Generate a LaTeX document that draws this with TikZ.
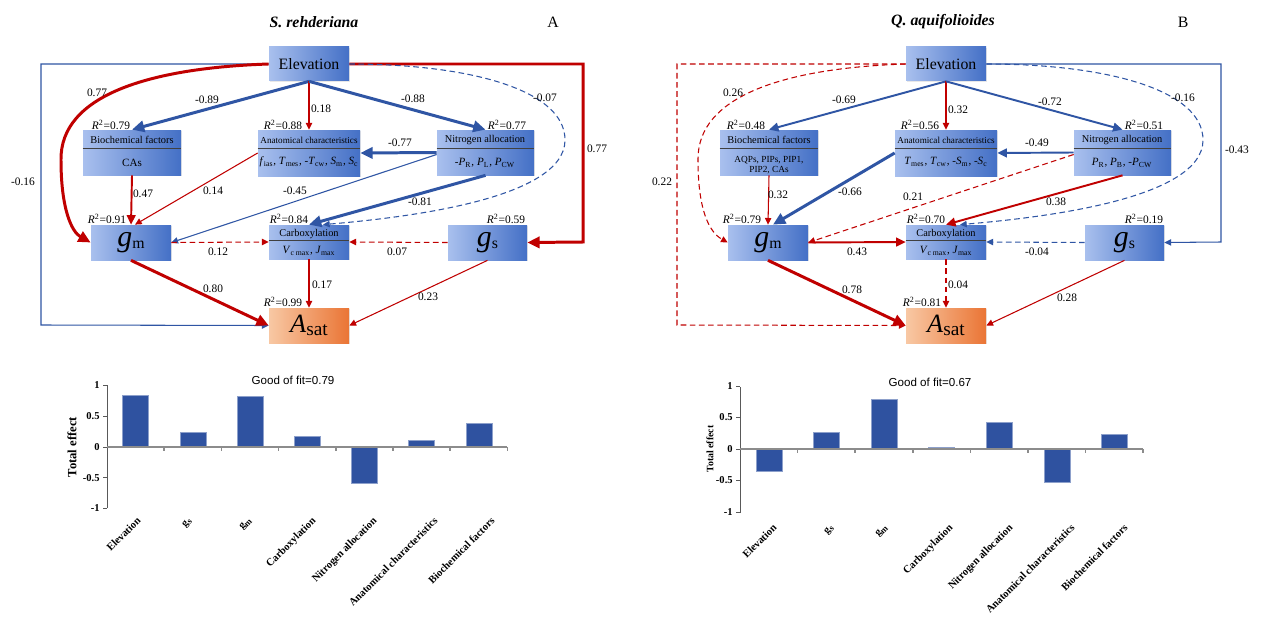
\documentclass[tikz,border=0pt]{standalone}
\usepackage{fontspec}
\setmainfont{Liberation Serif}
\newfontfamily\gofont{Liberation Sans}
\usetikzlibrary{arrows.meta, calc, fit, shadows}
\definecolor{cLink}{HTML}{2F55A4}
\definecolor{cPos}{HTML}{C00000}
\definecolor{cBoxLo}{HTML}{A9C0EE}
\definecolor{cBoxHi}{HTML}{4470C6}
\definecolor{cOutLo}{HTML}{F8C8A4}
\definecolor{cOutHi}{HTML}{EA7535}
\definecolor{cBar}{HTML}{2F52A0}
\definecolor{cAxis}{HTML}{8C8C8C}
\newcommand{\fs}[1]{\fontsize{#1}{#1}\selectfont}
\newcommand{\gm}{{\fs{17}\itshape g}{\fs{9}\raisebox{-1.5pt}{m}}}
\newcommand{\gsw}{{\fs{17}\itshape g}{\fs{9}\raisebox{-1.5pt}{s}}}
\newcommand{\asat}{{\fs{15}\itshape A}{\fs{11}\raisebox{-2pt}{sat}}}

\begin{document}
\begin{tikzpicture}[
    x=0.02cm, y=-0.02cm,
    box/.style={inner sep=0pt, left color=cBoxLo, right color=cBoxHi,
                drop shadow={opacity=0.18, shadow xshift=0.8pt, shadow yshift=-0.8pt}},
    outbox/.style={inner sep=0pt, left color=cOutLo, right color=cOutHi,
                drop shadow={opacity=0.18, shadow xshift=0.8pt, shadow yshift=-0.8pt}},
    big/.style={inner sep=0pt},
    hd/.style={font=\fs{5.9}, inner sep=0pt},
    hds/.style={font=\fs{5.2}, inner sep=0pt},
    bd/.style={font=\fs{6.3}, inner sep=0pt, align=center},
    splitl/.style={draw=black!75, line width=0.5pt},
    rsq/.style={font=\fs{6.5}, inner sep=0pt},
    coef/.style={font=\fs{6.5}, inner sep=0.5pt},
    negl/.style={color=cLink},
    posl/.style={color=cPos},
    wkarr/.style={line width=0.6pt, -{Triangle[length=3.8pt, width=3.6pt]}},
    mdarr/.style={line width=1.1pt, -{Triangle[length=5.4pt, width=5pt]}},
    bgarr/.style={line width=1.7pt, -{Triangle[length=7pt, width=6.4pt]}},
    nsig/.style={dash pattern=on 3.2pt off 2pt},
    ttl/.style={font=\fs{9}\bfseries\itshape, inner sep=0pt},
    pnl/.style={font=\fs{9}, inner sep=0pt},
    barf/.style={fill=cBar, draw=cBar!55!white, line width=0.3pt},
    axy/.style={draw=black!65, line width=0.5pt},
    axx/.style={draw=cAxis, line width=0.9pt},
    tk/.style={font=\fs{6}\bfseries, inner sep=0pt, anchor=east},
    cat/.style={font=\fs{6}\bfseries, inner sep=0pt, rotate=45, anchor=north east},
    gof/.style={font=\gofont\fs{6.6}, inner sep=0pt},
]
\path[use as bounding box, fill=white] (0,0) rectangle (1266,625);

% ===================== Panel A: S. rehderiana =====================
\node[ttl] (ttlA) at (314,22) {S. rehderiana};
\node[pnl] (pnlA) at (553,22) {A};

\node[box, fit={(269,47) (349,81)}] (elevA) {};
\node[box, fit={(83,130) (181,175)}] (bioA) {};
\node[box, fit={(258,130) (360,176)}] (anatA) {};
\node[box, fit={(437,130) (534,175)}] (nitA) {};
\node[box, fit={(91,225) (171,260)}] (gmA) {};
\node[box, fit={(269,225) (349,259)}] (carbA) {};
\node[box, fit={(448,225) (527,260)}] (gsA) {};
\node[outbox, fit={(269,308) (349,343)}] (asatA) {};

\node[big, font=\fs{9}] (elevAt) at (elevA.center) {Elevation};
\node[big] (gmAt) at (gmA.center) {\gm};
\node[big] (gsAt) at (gsA.center) {\gsw};
\node[big] (asatAt) at (asatA.center) {\asat};

\draw[splitl] ($(bioA.north west)+(0,19)$) -- ($(bioA.north east)+(0,19)$);
\draw[splitl] ($(anatA.north west)+(0,19)$) -- ($(anatA.north east)+(0,19)$);
\draw[splitl] ($(nitA.north west)+(0,19)$) -- ($(nitA.north east)+(0,19)$);
\draw[splitl] ($(carbA.north west)+(0,16)$) -- ($(carbA.north east)+(0,16)$);

\node[hd] (bioAh) at (132,140) {Biochemical factors};
\node[bd] (bioAb) at (132,163) {CAs};
\node[hds] (anatAh) at (309,140) {Anatomical characteristics};
\node[bd] (anatAb) at (309,162) {\textit{f}\textsubscript{ias}, \textit{T}\textsubscript{mes},
    -\textit{T}\textsubscript{cw}, \textit{S}\textsubscript{m}, \textit{S}\textsubscript{c}};
\node[hd] (nitAh) at (485,140) {Nitrogen allocation};
\node[bd] (nitAb) at (485,163) {-\textit{P}\textsubscript{R}, \textit{P}\textsubscript{L}, \textit{P}\textsubscript{CW}};
\node[hd] (carbAh) at (309,234) {Carboxylation};
\node[bd] (carbAb) at (309,251) {\textit{V}\textsubscript{c max}, \textit{J}\textsubscript{max}};

\node[rsq] (rA1) at (111,125) {\textit{R}\textsuperscript{2}=0.79};
\node[rsq] (rA2) at (283,125) {\textit{R}\textsuperscript{2}=0.88};
\node[rsq] (rA3) at (507,125) {\textit{R}\textsuperscript{2}=0.77};
\node[rsq] (rA4) at (107,219) {\textit{R}\textsuperscript{2}=0.91};
\node[rsq] (rA5) at (289,219) {\textit{R}\textsuperscript{2}=0.84};
\node[rsq] (rA6) at (506,219) {\textit{R}\textsuperscript{2}=0.59};
\node[rsq] (rA7) at (283,302) {\textit{R}\textsuperscript{2}=0.99};

\coordinate (loopA) at (41,325);
\coordinate (rloopA) at (583,242);

\draw[negl, wkarr] (elevA.west) -| (loopA) -- (asatA.west);
\draw[posl, bgarr] (elevA.east) -| (rloopA) -- (gsA.east);
\draw[posl, bgarr] (elevA.west) .. controls (150,68) and (60,95) .. (61,160)
      .. controls (61,210) and (72,232) .. (gmA.west);
\draw[negl, wkarr, nsig] (elevA.east) .. controls (470,64) and (565,90) .. (565,140)
      .. controls (565,200) and (400,218) .. ($(carbA.north)+(14,0)$);
\draw[negl, bgarr] (elevA.south) -- (bioA.north);
\draw[posl, wkarr] (elevA.south) -- (anatA.north);
\draw[negl, bgarr] (elevA.south) -- (nitA.north);
\draw[posl, mdarr] (bioA.south) -- (gmA.north);
\draw[posl, wkarr] (anatA.west) -- ($(gmA.north)+(4,0)$);
\draw[negl, bgarr] (nitA.west) -- (anatA.east);
\draw[negl, wkarr] ($(nitA.west)+(0,2)$) -- (gmA.east);
\draw[negl, bgarr] (nitA.south) -- (carbA.north);
\draw[posl, wkarr, nsig] (gmA.east) -- (carbA.west);
\draw[posl, wkarr, nsig] (gsA.west) -- (carbA.east);
\draw[posl, bgarr] (gmA.south) -- (asatA.west);
\draw[posl, wkarr] (carbA.south) -- (asatA.north);
\draw[posl, wkarr] (gsA.south) -- (asatA.east);

\node[coef] (cA1) at (207,100) {-0.89};
\node[coef] (cA2) at (321,109) {0.18};
\node[coef] (cA3) at (413,99) {-0.88};
\node[coef] (cA4) at (97,93) {0.77};
\node[coef] (cA5) at (23,182) {-0.16};
\node[coef] (cA6) at (597,149) {0.77};
\node[coef] (cA7) at (545,98) {-0.07};
\node[coef] (cA8) at (143,194) {0.47};
\node[coef] (cA9) at (213,191) {0.14};
\node[coef] (cA10) at (400,143) {-0.77};
\node[coef] (cA11) at (295,191) {-0.45};
\node[coef] (cA12) at (420,202) {-0.81};
\node[coef] (cA13) at (218,252) {0.12};
\node[coef] (cA14) at (397,252) {0.07};
\node[coef] (cA15) at (213,289) {0.80};
\node[coef] (cA16) at (322,285) {0.17};
\node[coef] (cA17) at (428,297) {0.23};

% ===================== Panel B: Q. aquifolioides =====================
\node[ttl] (ttlB) at (943,22) {Q. aquifolioides};
\node[pnl] (pnlB) at (1183,22) {B};

\node[box, fit={(906,47) (986,81)}] (elevB) {};
\node[box, fit={(720,130) (818,175)}] (bioB) {};
\node[box, fit={(895,130) (997,176)}] (anatB) {};
\node[box, fit={(1074,130) (1171,175)}] (nitB) {};
\node[box, fit={(728,225) (808,260)}] (gmB) {};
\node[box, fit={(906,225) (986,259)}] (carbB) {};
\node[box, fit={(1085,225) (1164,260)}] (gsB) {};
\node[outbox, fit={(906,308) (986,343)}] (asatB) {};

\node[big, font=\fs{9}] (elevBt) at (elevB.center) {Elevation};
\node[big] (gmBt) at (gmB.center) {\gm};
\node[big] (gsBt) at (gsB.center) {\gsw};
\node[big] (asatBt) at (asatB.center) {\asat};

\draw[splitl] ($(bioB.north west)+(0,19)$) -- ($(bioB.north east)+(0,19)$);
\draw[splitl] ($(anatB.north west)+(0,19)$) -- ($(anatB.north east)+(0,19)$);
\draw[splitl] ($(nitB.north west)+(0,19)$) -- ($(nitB.north east)+(0,19)$);
\draw[splitl] ($(carbB.north west)+(0,16)$) -- ($(carbB.north east)+(0,16)$);

\node[hd] (bioBh) at (769,140) {Biochemical factors};
\node[bd, font=\fs{5.3}] (bioBb) at (769,165) {AQPs, PIPs, PIP1,\\[0.5pt]PIP2, CAs};
\node[hds] (anatBh) at (946,140) {Anatomical characteristics};
\node[bd] (anatBb) at (946,162) {\textit{T}\textsubscript{mes}, \textit{T}\textsubscript{cw},
    -\textit{S}\textsubscript{m}, -\textit{S}\textsubscript{c}};
\node[hd] (nitBh) at (1122,140) {Nitrogen allocation};
\node[bd] (nitBb) at (1122,163) {\textit{P}\textsubscript{R}, \textit{P}\textsubscript{B}, -\textit{P}\textsubscript{CW}};
\node[hd] (carbBh) at (946,234) {Carboxylation};
\node[bd] (carbBb) at (946,251) {\textit{V}\textsubscript{c max}, \textit{J}\textsubscript{max}};

\node[rsq] (rB1) at (746,125) {\textit{R}\textsuperscript{2}=0.48};
\node[rsq] (rB2) at (920,125) {\textit{R}\textsuperscript{2}=0.56};
\node[rsq] (rB3) at (1144,125) {\textit{R}\textsuperscript{2}=0.51};
\node[rsq] (rB4) at (742,219) {\textit{R}\textsuperscript{2}=0.79};
\node[rsq] (rB5) at (926,219) {\textit{R}\textsuperscript{2}=0.70};
\node[rsq] (rB6) at (1144,219) {\textit{R}\textsuperscript{2}=0.19};
\node[rsq] (rB7) at (922,302) {\textit{R}\textsuperscript{2}=0.81};

\coordinate (loopB) at (677,325);
\coordinate (rloopB) at (1221,242);

\draw[posl, wkarr, nsig] (elevB.west) -| (loopB) -- (asatB.west);
\draw[negl, wkarr] (elevB.east) -| (rloopB) -- (gsB.east);
\draw[posl, wkarr, nsig] (elevB.west) .. controls (787,68) and (697,95) .. (698,160)
      .. controls (698,210) and (709,232) .. (gmB.west);
\draw[negl, wkarr, nsig] (elevB.east) .. controls (1107,64) and (1203,90) .. (1203,140)
      .. controls (1203,200) and (1037,218) .. ($(carbB.north)+(14,0)$);
\draw[negl, mdarr] (elevB.south) -- (bioB.north);
\draw[posl, wkarr] (elevB.south) -- (anatB.north);
\draw[negl, mdarr] (elevB.south) -- (nitB.north);
\draw[posl, wkarr] (bioB.south) -- (gmB.north);
\draw[negl, bgarr] (anatB.west) -- ($(gmB.north)+(5,0)$);
\draw[negl, mdarr] (nitB.west) -- (anatB.east);
\draw[posl, wkarr, nsig] ($(nitB.west)+(0,2)$) -- (gmB.east);
\draw[posl, mdarr] (nitB.south) -- (carbB.north);
\draw[posl, mdarr] (gmB.east) -- (carbB.west);
\draw[negl, wkarr, nsig] (gsB.west) -- (carbB.east);
\draw[posl, bgarr] (gmB.south) -- (asatB.west);
\draw[posl, wkarr, nsig] (carbB.south) -- (asatB.north);
\draw[posl, wkarr] (gsB.south) -- (asatB.east);

\node[coef] (cB1) at (844,100) {-0.69};
\node[coef] (cB2) at (958,110) {0.32};
\node[coef] (cB3) at (1050,102) {-0.72};
\node[coef] (cB4) at (733,93) {0.26};
\node[coef] (cB5) at (662,182) {0.22};
\node[coef] (cB6) at (1237,150) {-0.43};
\node[coef] (cB7) at (1183,98) {-0.16};
\node[coef] (cB8) at (778,195) {0.32};
\node[coef] (cB9) at (850,192) {-0.66};
\node[coef] (cB10) at (1037,143) {-0.49};
\node[coef] (cB11) at (913,197) {0.21};
\node[coef] (cB12) at (1056,202) {0.38};
\node[coef] (cB13) at (857,252) {0.43};
\node[coef] (cB14) at (1037,252) {-0.04};
\node[coef] (cB15) at (852,290) {0.78};
\node[coef] (cB16) at (958,285) {0.04};
\node[coef] (cB17) at (1067,298) {0.28};

% ===================== Total effects, A =====================
\node[gof] (gofA) at (293,380) {Good of fit=0.79};
\foreach \v [count=\i] in {0.84,0.24,0.82,0.17,-0.59,0.11,0.39}
    \draw[barf] ({107+57.2*\i-41.6},447) rectangle ++(26,{-61.5*\v});
\draw[axy] (107,385) -- (107,508);
\foreach \v/\t [count=\i] in {1/1, 0.5/0.5, 0/0, -0.5/-0.5, -1/-1} {
    \draw[axy] (103,{447-61.5*\v}) -- (107,{447-61.5*\v});
    \node[tk] (tkA\i) at (100,{447-61.5*\v}) {\t};
}
\draw[axx] (107,447) -- (507,447);
\foreach \k in {1,...,7}
    \draw[axx] ({107+57.2*\k},447) -- ++(0,4);
\node[font=\fs{7.2}\bfseries, rotate=90, inner sep=0pt] (yA) at (72,447) {Total effect};
\foreach \x/\t [count=\i] in {136/Elevation, 188/{g\textsubscript{s}}, 248/{g\textsubscript{m}},
        311/Carboxylation, 372/Nitrogen allocation, 433/Anatomical characteristics,
        490/Biochemical factors}
    \node[cat] (catA\i) at (\x,516) {\t};

% ===================== Total effects, B =====================
\node[gof] (gofB) at (930,382) {Good of fit=0.67};
\foreach \v [count=\i] in {-0.36,0.27,0.79,0.03,0.43,-0.53,0.24}
    \draw[barf] ({740+57.6*\i-41.8},449) rectangle ++(26,{-63*\v});
\draw[axy] (740,387) -- (740,513);
\foreach \v/\t [count=\i] in {1/1, 0.5/0.5, 0/0, -0.5/-0.5, -1/-1} {
    \draw[axy] (736,{449-63*\v}) -- (740,{449-63*\v});
    \node[tk] (tkB\i) at (733,{449-63*\v}) {\t};
}
\draw[axx] (740,449) -- (1143,449);
\foreach \k in {1,...,7}
    \draw[axx] ({740+57.6*\k},449) -- ++(0,4);
\node[font=\fs{5.6}\bfseries, rotate=90, inner sep=0pt] (yB) at (710,449) {Total effect};
\foreach \x/\t [count=\i] in {772/Elevation, 830/{g\textsubscript{s}}, 884/{g\textsubscript{m}},
        948/Carboxylation, 1008/Nitrogen allocation, 1070/Anatomical characteristics,
        1123/Biochemical factors}
    \node[cat] (catB\i) at (\x,523) {\t};

\end{tikzpicture}
\end{document}
